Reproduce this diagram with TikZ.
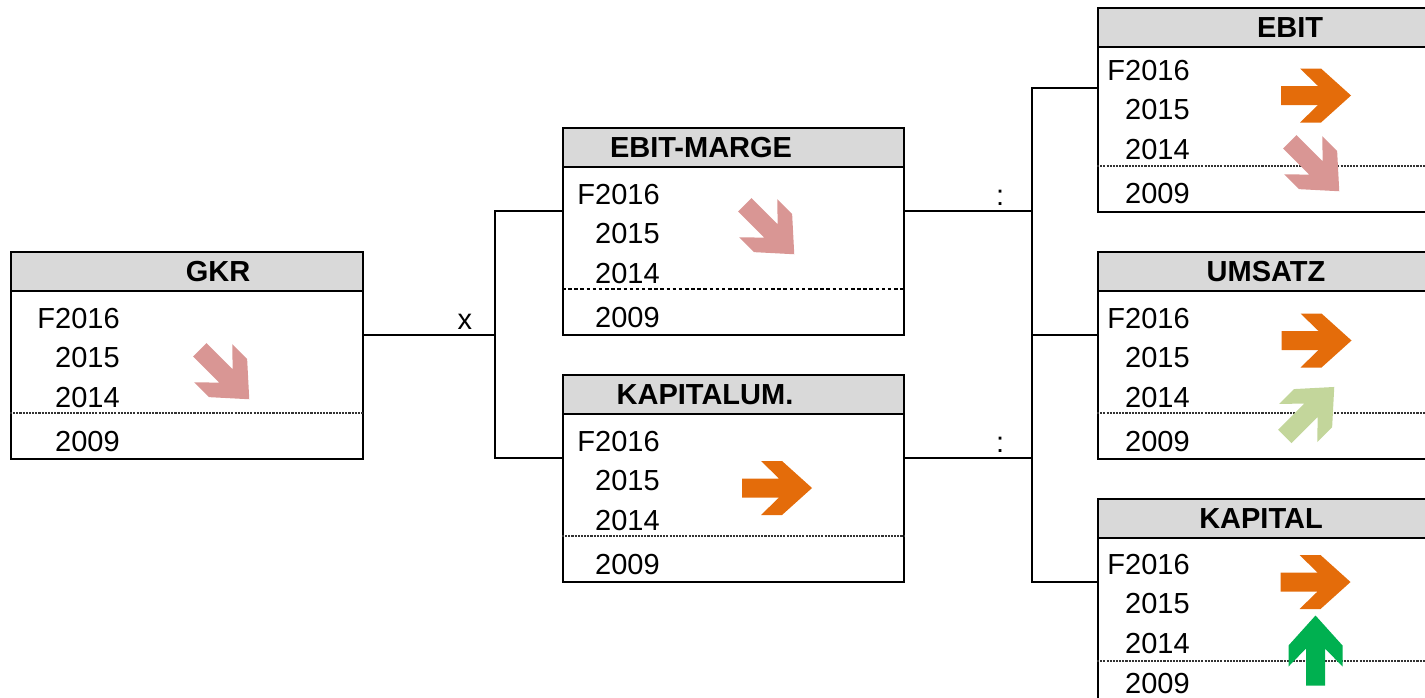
\documentclass[tikz,border=0pt]{standalone}
\usepackage{fontspec}
\setmainfont{Liberation Sans}
\usetikzlibrary{calc,positioning}
\definecolor{headgray}{HTML}{D9D9D9}
\definecolor{flat}{HTML}{E46C0A}
\definecolor{fall}{HTML}{D99694}
\definecolor{riseSoft}{HTML}{C3D69B}
\definecolor{rise}{HTML}{00B050}
\tikzset{
  panel/.style={draw,line width=1.1pt,anchor=north west,minimum height=4.14cm,inner sep=0pt},
  head/.style={draw,fill=headgray,line width=1.1pt,anchor=north west,minimum height=0.78cm,inner sep=0pt},
  title/.style={font=\fontsize{16.5}{19}\selectfont\bfseries,inner sep=0pt},
  year/.style={font=\fontsize{16.5}{19}\selectfont,text width=1.9cm,align=right,inner sep=0pt,text height=0.5cm,text depth=0.28cm},
  cut/.style={line width=0.6pt,draw=black!80,dash pattern=on 1.2pt off 0.6pt},
  dotcut/.style={line width=1.3pt,dash pattern=on 2pt off 1.5pt},
  wire/.style={line width=1.1pt},
  op/.style={font=\fontsize{16.5}{19}\selectfont,inner sep=2.5pt},
  trend/.pic={
    \path[pic actions] (-35,-9.5) -- (2,-9.5) -- (-16,-27) -- (5,-27) -- (35,0)
      -- (5,27) -- (-16,27) -- (2,9.5) -- (-35,9.5) -- cycle;
  }
}

\begin{document}
\begin{tikzpicture}[x=0.02cm,y=-0.02cm]
  \useasboundingbox (0,0) rectangle (1425,697);
  \clip (0,0) rectangle (1425,697);

  % GKR
  \node[panel,minimum width=7.04cm] (gkr) at (10,251) {};
  \node[head,minimum width=7.04cm] (gkrhead) at (gkr.north west) {};
  \node[title] (gkrtitle) at ($(gkrhead.west)+(208,0)$) {GKR};
  \node[year,anchor=base east] (gkr1) at ($(gkr.north west)+(110,77)$) {F2016};
  \node[year,below=0cm of gkr1] (gkr2) {2015};
  \node[year,below=0cm of gkr2] (gkr3) {2014};
  \node[year,below=0.08cm of gkr3] (gkr4) {2009};
  \coordinate (gkrcut) at ($(gkr.north west)+(0,162)$);
  \draw[cut] (gkrcut) -- (gkrcut -| gkr.east);
  \pic[fill=fall,rotate=-45] (gkrtrend) at (224.5,374.5) {trend};

  % EBIT-MARGE
  \node[panel,minimum width=6.82cm] (marge) at (562,127) {};
  \node[head,minimum width=6.82cm] (margehead) at (marge.north west) {};
  \node[title] (margetitle) at ($(margehead.west)+(139,0)$) {EBIT-MARGE};
  \node[year,anchor=base east] (marge1) at ($(marge.north west)+(98,77)$) {F2016};
  \node[year,below=0cm of marge1] (marge2) {2015};
  \node[year,below=0cm of marge2] (marge3) {2014};
  \node[year,below=0.08cm of marge3] (marge4) {2009};
  \coordinate (margecut) at ($(marge.north west)+(0,162)$);
  \draw[dotcut] (margecut) -- (margecut -| marge.east);
  \pic[fill=fall,rotate=-45] (margetrend) at (769.5,229.5) {trend};

  % KAPITALUM.
  \node[panel,minimum width=6.82cm] (kapu) at (562,374) {};
  \node[head,minimum width=6.82cm] (kapuhead) at (kapu.north west) {};
  \node[title] (kaputitle) at ($(kapuhead.west)+(143,0)$) {KAPITALUM.};
  \node[year,anchor=base east] (kapu1) at ($(kapu.north west)+(98,77)$) {F2016};
  \node[year,below=0cm of kapu1] (kapu2) {2015};
  \node[year,below=0cm of kapu2] (kapu3) {2014};
  \node[year,below=0.08cm of kapu3] (kapu4) {2009};
  \coordinate (kapucut) at ($(kapu.north west)+(0,162)$);
  \draw[cut] (kapucut) -- (kapucut -| kapu.east);
  \pic[fill=flat] (kaputrend) at (777,488) {trend};

  % EBIT
  \node[panel,minimum width=8.4cm,minimum height=4.08cm] (ebit) at (1097,7) {};
  \node[head,minimum width=8.4cm] (ebithead) at (ebit.north west) {};
  \node[title] (ebittitle) at ($(ebithead.west)+(193,0)$) {EBIT};
  \node[year,anchor=base east] (ebit1) at ($(ebit.north west)+(93,73)$) {F2016};
  \node[year,below=0cm of ebit1] (ebit2) {2015};
  \node[year,below=0cm of ebit2] (ebit3) {2014};
  \node[year,below=0.08cm of ebit3] (ebit4) {2009};
  \coordinate (ebitcut) at ($(ebit.north west)+(0,159)$);
  \draw[cut] (ebitcut) -- (ebitcut -| ebit.east);
  \pic[fill=flat] (ebitnow) at (1316,95.5) {trend};
  \pic[fill=fall,rotate=-45] (ebittrend) at (1314.5,166.5) {trend};

  % UMSATZ
  \node[panel,minimum width=8.4cm] (ums) at (1097,251) {};
  \node[head,minimum width=8.4cm] (umshead) at (ums.north west) {};
  \node[title] (umstitle) at ($(umshead.west)+(169,0)$) {UMSATZ};
  \node[year,anchor=base east] (ums1) at ($(ums.north west)+(93,77)$) {F2016};
  \node[year,below=0cm of ums1] (ums2) {2015};
  \node[year,below=0cm of ums2] (ums3) {2014};
  \node[year,below=0.08cm of ums3] (ums4) {2009};
  \coordinate (umscut) at ($(ums.north west)+(0,162)$);
  \draw[cut] (umscut) -- (umscut -| ums.east);
  \pic[fill=flat] (umsnow) at (1316.5,340.5) {trend};
  \pic[fill=riseSoft,rotate=45] (umstrend) at (1309.5,411.7) {trend};

  % KAPITAL
  \node[panel,minimum width=8.4cm] (kap) at (1097,498) {};
  \node[head,minimum width=8.4cm] (kaphead) at (kap.north west) {};
  \node[title] (kaptitle) at ($(kaphead.west)+(164,0)$) {KAPITAL};
  \node[year,anchor=base east] (kap1) at ($(kap.north west)+(93,76)$) {F2016};
  \node[year,below=0cm of kap1] (kap2) {2015};
  \node[year,below=0cm of kap2] (kap3) {2014};
  \node[year,below=0cm of kap3] (kap4) {2009};
  \coordinate (kapcut) at ($(kap.north west)+(0,163)$);
  \draw[cut] (kapcut) -- (kapcut -| kap.east);
  \pic[fill=flat] (kapnow) at (1315.5,582) {trend};
  \pic[fill=rise,rotate=90] (kaptrend) at (1315.5,650.5) {trend};

  % connectors
  \coordinate (gkrout) at ($(gkr.north east)+(0,84)$);
  \coordinate (margein) at ($(marge.north west)+(0,84)$);
  \coordinate (margeout) at ($(marge.north east)+(0,84)$);
  \coordinate (kapuin) at ($(kapu.north west)+(0,84)$);
  \coordinate (kapuout) at ($(kapu.north east)+(0,84)$);
  \coordinate (ebitin) at ($(ebit.north west)+(0,81)$);
  \coordinate (umsin) at ($(ums.north west)+(0,84)$);
  \coordinate (kapin) at ($(kap.north west)+(0,84)$);
  \coordinate (product) at (495,335);
  \coordinate (ratio) at (1032,211);

  \draw[wire] (gkrout) -- node[op,above,pos=0.77] (times) {x} (product);
  \draw[wire] (margein) -| (product) |- (kapuin);
  \draw[wire] (margeout) -- node[op,above,pos=0.75] (over1) {:} (ratio);
  \draw[wire] (kapuout) -- node[op,above,pos=0.75] (over2) {:} (kapuout -| ratio);
  \draw[wire] (ebitin) -| (ratio) |- (kapin);
  \draw[wire] (umsin) -- (umsin -| ratio);
\end{tikzpicture}
\end{document}
